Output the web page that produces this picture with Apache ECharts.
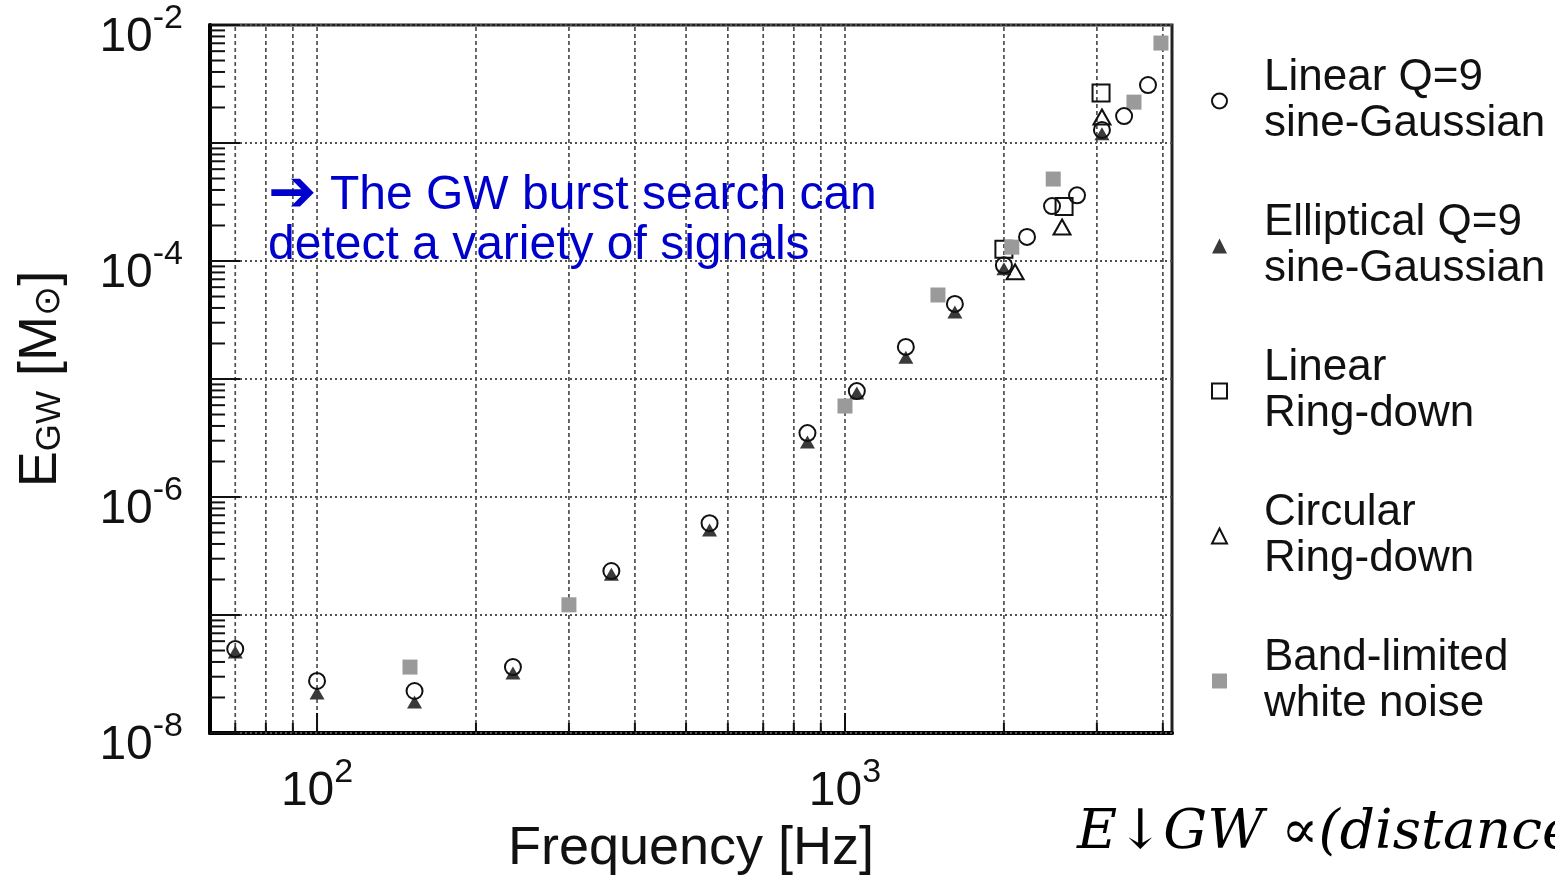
<!DOCTYPE html>
<html>
<head>
<meta charset="utf-8">
<title>GW burst search: energy vs frequency</title>
<script src="https://cdn.jsdelivr.net/npm/echarts@6/dist/echarts.min.js"></script>
<style>
  html, body { margin: 0; padding: 0; background: #fff; }
  #chart { width: 1555px; height: 875px; }
</style>
</head>
<body>
<div id="chart"></div>
<script>
// GW energy (solar masses) at 50% detection efficiency, [frequency Hz, E_GW]
const linearSineGaussian = [
  [70, 5.15e-8], [100, 2.76e-8], [153, 2.27e-8], [235, 3.62e-8], [361, 2.36e-7],
  [554, 6.0e-7], [849, 3.48e-6], [1053, 7.9e-6], [1304, 1.87e-5], [1615, 4.33e-5],
  [2000, 9.2e-5], [2212, 1.6e-4], [2467, 2.92e-4], [2751, 3.6e-4], [3067, 1.29e-3],
  [3378, 1.69e-3], [3749, 3.1e-3]
];
const ellipticalSineGaussian = [
  [70, 4.86e-8], [100, 2.18e-8], [153, 1.83e-8], [235, 3.22e-8], [361, 2.22e-7],
  [554, 5.25e-7], [849, 2.92e-6], [1053, 7.6e-6], [1304, 1.53e-5], [1615, 3.7e-5],
  [2000, 8.6e-5], [3067, 1.2e-3]
];
const linearRingdown = [[2000, 1.26e-4], [2600, 2.9e-4], [3055, 2.65e-3]];
const circularRingdown = [[2100, 8.1e-5], [2577, 1.94e-4], [3067, 1.66e-3]];
const whiteNoiseBurst = [
  [150, 3.62e-8], [300, 1.22e-7], [1000, 5.9e-6], [1500, 5.15e-5],
  [2070, 1.31e-4], [2480, 4.95e-4], [3527, 2.22e-3], [3967, 7.03e-3]
];

// Series names as shown in the legend
const seriesNames = [
  'Linear Q=9\nsine-Gaussian',
  'Elliptical Q=9\nsine-Gaussian',
  'Linear\nRing-down',
  'Circular\nRing-down',
  'Band-limited\nwhite noise'
];

// Axis decorations: frequency grid lines, energy decades and their subdivisions
const xGridHz = [70, 80, 90, 100, 200, 300, 400, 500, 600, 700, 800, 900, 1000, 2000, 3000, 4000];
const xLabelExponents = [2, 3];
const yDecadeExponents = [-8, -7, -6, -5, -4, -3, -2];
const yMantissas = [1, 2, 3, 4, 5, 6, 7, 8, 9];
const yLabelExponents = [-8, -6, -4, -2];

const FONT = '"Liberation Sans", Arial, Helvetica, sans-serif';
const GRID_COLOR = '#505050';

const yTickValues = [];
yDecadeExponents.forEach(function (e) {
  yMantissas.forEach(function (m) {
    if (e === -2 && m > 1) return;
    yTickValues.push(m * Math.pow(10, e));
  });
});

function isDecade(v) {
  const e = Math.log10(v);
  return Math.abs(e - Math.round(e)) < 1e-9;
}

function powerLabel(allowed) {
  return function (v) {
    if (!isDecade(v)) return '';
    const e = Math.round(Math.log10(v));
    if (allowed.indexOf(e) < 0) return '';
    return '{b|10}{s|' + e + '}';
  };
}

// "10" with a raised exponent
const powerRich = {
  b: { fontSize: 48, lineHeight: 72, fontFamily: FONT, color: '#111' },
  s: { fontSize: 34, lineHeight: 36, fontFamily: FONT, color: '#111', verticalAlign: 'top' }
};

const chart = echarts.init(document.getElementById('chart'), null, { renderer: 'canvas' });

chart.setOption({
  animation: false,
  backgroundColor: '#fff',
  grid: {
    left: 210, top: 25, width: 962, height: 708,
    outerBoundsMode: 'none',
    containLabel: false,
    show: true, borderColor: '#222', borderWidth: 3, backgroundColor: 'transparent'
  },
  xAxis: {
    type: 'log', logBase: 10, min: 62.7, max: 4163,
    axisLine: { show: true, onZero: false, lineStyle: { color: '#000', width: 4 } },
    axisTick: { show: false },
    splitLine: { show: false },
    axisLabel: { margin: 23, formatter: powerLabel(xLabelExponents), rich: powerRich },
    name: 'Frequency [Hz]',
    nameLocation: 'middle',
    nameGap: 89,
    nameTextStyle: { fontSize: 54, fontFamily: FONT, color: '#111' }
  },
  yAxis: {
    type: 'log', logBase: 10, min: 1e-8, max: 1e-2,
    axisLine: { show: true, onZero: false, lineStyle: { color: '#000', width: 4 } },
    axisTick: { show: false },
    splitLine: { show: false },
    axisLabel: { margin: 27, padding: [26, 0, 0, 0], formatter: powerLabel(yLabelExponents), rich: powerRich },
    name: '{m|E}{sub|GW}{m| [M}{sun|\u2299}{m|]}',
    nameLocation: 'middle',
    nameGap: 142,
    nameTextStyle: {
      rich: {
        m: { fontSize: 54, fontFamily: FONT, color: '#111' },
        sub: { fontSize: 35, fontFamily: FONT, color: '#111', verticalAlign: 'bottom' },
        sun: { fontSize: 36, fontFamily: '"DejaVu Sans", sans-serif', color: '#111', verticalAlign: 'bottom' }
      }
    }
  },
  legend: {
    orient: 'vertical',
    left: 1206, top: 50,
    itemGap: 53,
    itemWidth: 15, itemHeight: 15,
    selectedMode: false,
    data: seriesNames,
    textStyle: { fontSize: 44, lineHeight: 46, fontFamily: FONT, color: '#111', padding: [0, 0, 0, 32] }
  },
  graphic: [
    {
      type: 'text', x: 268, y: 171, z: 20,
      style: {
        text: '{a|\u2794} The GW burst search can\ndetect a variety of signals',
        fontSize: 48, lineHeight: 50, fontFamily: FONT, fill: '#0000cc',
        rich: { a: { fontSize: 58, lineHeight: 50, fontFamily: '"DejaVu Sans", sans-serif', fill: '#0000cc' } }
      }
    },
    {
      type: 'text', x: 1077, y: 806, z: 20,
      style: {
        text: 'E\u2193GW \u221D(distance',
        fontSize: 55, fontStyle: 'italic', fontFamily: '"DejaVu Serif", serif', fill: '#000'
      }
    }
  ],
  series: [
    {
      // vertical dashed grid and bottom ticks
      type: 'custom', silent: true, z: 1, clip: false,
      data: xGridHz.map(function (f) { return [f, 1e-5]; }),
      renderItem: function (params, api) {
        const cs = params.coordSys;
        const x = api.coord([api.value(0), api.value(1)])[0];
        const bottom = cs.y + cs.height;
        const len = isDecade(api.value(0)) ? 20 : 10;
        return {
          type: 'group',
          children: [
            { type: 'line', shape: { x1: x, y1: cs.y + 2, x2: x, y2: bottom },
              style: { stroke: GRID_COLOR, lineWidth: 1.7, lineDash: [4, 3] } },
            { type: 'line', shape: { x1: x, y1: bottom, x2: x, y2: bottom - len },
              style: { stroke: '#111', lineWidth: 2 } }
          ]
        };
      }
    },
    {
      // horizontal dotted decade grid and left ticks
      type: 'custom', silent: true, z: 1, clip: false,
      data: yTickValues.map(function (v) { return [100, v]; }),
      renderItem: function (params, api) {
        const cs = params.coordSys;
        const y = api.coord([api.value(0), api.value(1)])[1];
        const decade = isDecade(api.value(1));
        const children = [
          { type: 'line', shape: { x1: cs.x, y1: y, x2: cs.x + (decade ? 30 : 15), y2: y },
            style: { stroke: '#111', lineWidth: 2 } }
        ];
        if (decade) {
          children.unshift({ type: 'line', shape: { x1: cs.x, y1: y, x2: cs.x + cs.width, y2: y },
            style: { stroke: GRID_COLOR, lineWidth: 1.9, lineDash: [2, 3] } });
        }
        return { type: 'group', children: children };
      }
    },
    {
      name: seriesNames[1], type: 'scatter', z: 3,
      data: ellipticalSineGaussian,
      symbol: 'triangle', symbolSize: [15, 13],
      itemStyle: { color: '#3a3a3a', opacity: 1 }
    },
    {
      name: seriesNames[2], type: 'scatter', z: 3,
      data: linearRingdown,
      symbol: 'rect', symbolSize: 17,
      itemStyle: { color: 'rgba(0,0,0,0)', borderColor: '#111', borderWidth: 2, opacity: 1 }
    },
    {
      name: seriesNames[4], type: 'scatter', z: 4,
      data: whiteNoiseBurst,
      symbol: 'rect', symbolSize: 15,
      itemStyle: { color: '#9a9a9a', opacity: 1 }
    },
    {
      name: seriesNames[3], type: 'scatter', z: 5,
      data: circularRingdown,
      symbol: 'triangle', symbolSize: [17, 15],
      itemStyle: { color: 'rgba(0,0,0,0)', borderColor: '#111', borderWidth: 2, opacity: 1 }
    },
    {
      name: seriesNames[0], type: 'scatter', z: 5,
      data: linearSineGaussian,
      symbol: 'circle', symbolSize: 16,
      itemStyle: { color: 'rgba(0,0,0,0)', borderColor: '#111', borderWidth: 2, opacity: 1 }
    }
  ]
});
</script>
</body>
</html>
